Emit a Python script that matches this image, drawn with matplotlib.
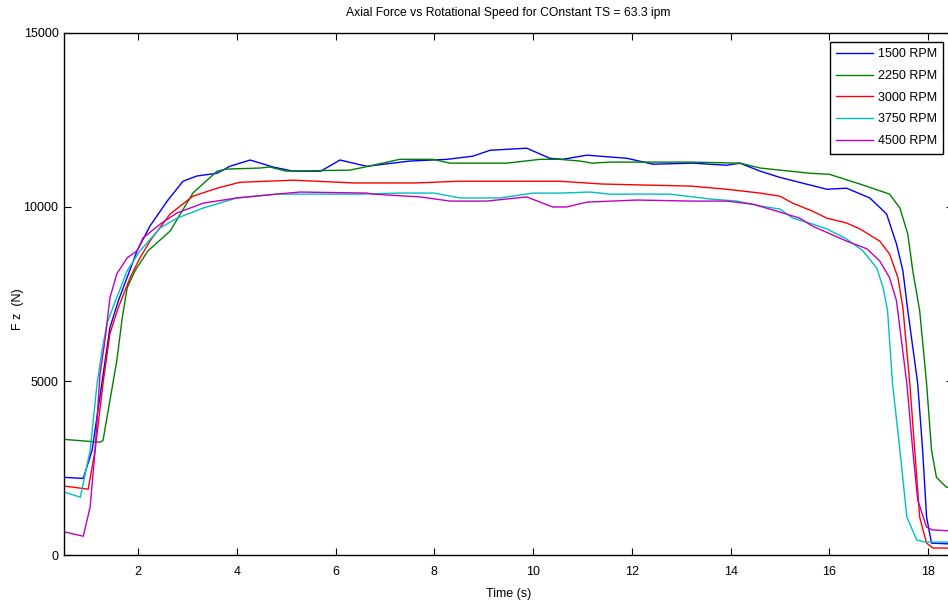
import matplotlib
matplotlib.use("Agg")
import matplotlib.pyplot as plt

# Axial force traces (time in s, Fz in N) for each spindle speed
t_1500 = [0.52, 0.89, 1.07, 1.43, 1.60, 1.98, 2.24, 2.59, 2.91, 3.19, 3.60, 3.86, 4.27, 4.73,
          5.14, 5.70, 6.09, 6.63, 7.50, 8.26, 8.78, 9.13, 9.87, 10.34, 10.60, 11.09, 11.35,
          11.90, 12.43, 13.23, 13.92, 14.19, 14.60, 15.00, 15.95, 16.35, 16.82, 17.16, 17.36,
          17.49, 17.59, 17.79, 17.89, 17.97, 18.07, 18.50]
f_1500 = [2230, 2200, 3010, 6530, 7300, 8740, 9450, 10170, 10740, 10890, 10970, 11170, 11350, 11150,
          11030, 11030, 11350, 11170, 11320, 11370, 11460, 11630, 11690, 11400, 11370, 11490, 11460,
          11400, 11230, 11260, 11200, 11260, 11030, 10850, 10510, 10540, 10260, 9800, 8940,
          8170, 7020, 4930, 3010, 1090, 340, 315]

t_2250 = [0.52, 1.23, 1.29, 1.43, 1.57, 1.68, 1.78, 1.94, 2.20, 2.65, 3.11, 3.60, 3.80, 4.47,
          4.67, 5.00, 6.29, 6.60, 7.30, 7.97, 8.32, 9.47, 10.14, 10.54, 10.95, 11.20, 11.55,
          13.20, 14.19, 14.60, 15.00, 15.60, 16.00, 16.62, 17.22, 17.43, 17.59, 17.69, 17.83,
          17.97, 18.07, 18.17, 18.37, 18.50]
f_2250 = [3320, 3240, 3290, 4440, 5590, 6820, 7680, 8170, 8740, 9310, 10400, 11030, 11090, 11120,
          11150, 11030, 11060, 11150, 11370, 11370, 11260, 11260, 11370, 11370, 11320, 11260, 11290,
          11290, 11260, 11120, 11060, 10970, 10940, 10660, 10370, 9970, 9220, 8170, 7020,
          4930, 3010, 2230, 1950, 1940]

t_3000 = [0.52, 0.99, 1.13, 1.29, 1.43, 1.60, 1.84, 2.04, 2.24, 2.65, 3.11, 3.60, 4.06, 5.14,
          6.40, 7.60, 8.50, 10.54, 11.40, 13.20, 13.92, 14.60, 15.00, 15.26, 15.66, 15.95,
          16.35, 16.62, 17.02, 17.22, 17.39, 17.49, 17.63, 17.73, 17.83, 17.97, 18.10, 18.50]
f_3000 = [1980, 1890, 3010, 4930, 6360, 7110, 7970, 8540, 9020, 9800, 10310, 10540, 10710, 10770,
          10690, 10690, 10740, 10740, 10660, 10600, 10510, 10400, 10310, 10110, 9880, 9680,
          9540, 9370, 9020, 8650, 7970, 7110, 4930, 3010, 1090, 340, 200, 200]

t_3750 = [0.52, 0.83, 1.03, 1.17, 1.27, 1.37, 1.49, 1.78, 2.04, 2.45, 2.79, 3.32, 4.00, 4.81,
          6.49, 7.30, 8.00, 8.52, 9.33, 10.00, 10.54, 11.15, 11.55, 12.77, 13.58, 14.13, 14.60,
          15.00, 15.26, 15.66, 15.95, 16.35, 16.68, 16.96, 17.09, 17.18, 17.28, 17.43, 17.57,
          17.77, 17.95, 18.50]
f_3750 = [1800, 1660, 3010, 4930, 5870, 6650, 7110, 8170, 8740, 9400, 9680, 9970, 10260, 10370,
          10370, 10400, 10400, 10260, 10260, 10400, 10400, 10430, 10370, 10370, 10230, 10170, 10030,
          9940, 9680, 9510, 9370, 9080, 8740, 8250, 7680, 7020, 4930, 3010, 1090,
          430, 370, 370]

t_4500 = [0.52, 0.89, 1.03, 1.13, 1.23, 1.33, 1.43, 1.57, 1.78, 1.98, 2.10, 2.45, 2.79, 3.32,
          4.00, 4.81, 5.28, 6.63, 6.76, 7.71, 8.32, 9.06, 9.47, 9.87, 10.40, 10.68, 11.09,
          12.10, 13.23, 13.92, 14.45, 14.94, 15.40, 15.66, 16.35, 16.76, 17.02, 17.22, 17.36,
          17.57, 17.69, 17.79, 17.97, 18.09, 18.50]
f_4500 = [660, 540, 1380, 3010, 5210, 6160, 7390, 8080, 8540, 8740, 9110, 9510, 9830, 10110,
          10260, 10370, 10430, 10400, 10370, 10290, 10170, 10170, 10230, 10290, 10000, 10000, 10140,
          10200, 10170, 10170, 10080, 9880, 9680, 9450, 9020, 8800, 8450, 7970, 7310,
          4930, 3010, 1580, 800, 720, 690]

series_labels = ["1500 RPM", "2250 RPM", "3000 RPM", "3750 RPM", "4500 RPM"]
series_colors = ["#0000ff", "#008000", "#ff0000", "#00bfbf", "#bf00bf"]
x_ticks = [2, 4, 6, 8, 10, 12, 14, 16, 18]
y_ticks = [0, 5000, 10000, 15000]

plt.rcParams["font.family"] = ["Liberation Sans", "DejaVu Sans"]

W, H = 948, 607
fig = plt.figure(figsize=(W / 100, H / 100), dpi=100)
ax = fig.add_axes([64 / W, 52 / H, 888.75 / W, 522 / H])

traces = [(t_1500, f_1500), (t_2250, f_2250), (t_3000, f_3000), (t_3750, f_3750), (t_4500, f_4500)]
for (t, f), lab, col in zip(traces, series_labels, series_colors):
    ax.plot(t, f, color=col, lw=1.0, label=lab)

ax.set_xlim(0.5, 18.5)
ax.set_ylim(0, 15000)
ax.set_xticks(x_ticks)
ax.set_yticks(y_ticks)
ax.tick_params(direction="in", length=5, width=0.8, top=True, right=True, labelsize=9)
ax.tick_params(axis="y", pad=4)
ax.tick_params(axis="x", pad=8)
for s in ax.spines.values():
    s.set_linewidth(1.0)

ax.set_title("Axial Force vs Rotational Speed for COnstant TS = 63.3 ipm", fontsize=8.7, pad=12)
ax.set_xlabel("Time (s)", fontsize=9, labelpad=7)
ax.set_ylabel("F z  (N)", fontsize=9)
ax.yaxis.set_label_coords(-40 / 888.75, 0.47)

leg = ax.legend(loc="upper right", bbox_to_anchor=(943 / W, 1 - 42 / H),
                bbox_transform=fig.transFigure, fontsize=9, frameon=True, fancybox=False,
                edgecolor="black", framealpha=1, handlelength=2.9, handletextpad=0.4,
                borderpad=0.5, labelspacing=0.78, borderaxespad=0)
leg.get_frame().set_linewidth(1.0)

fig.savefig("out.png", dpi=100)
